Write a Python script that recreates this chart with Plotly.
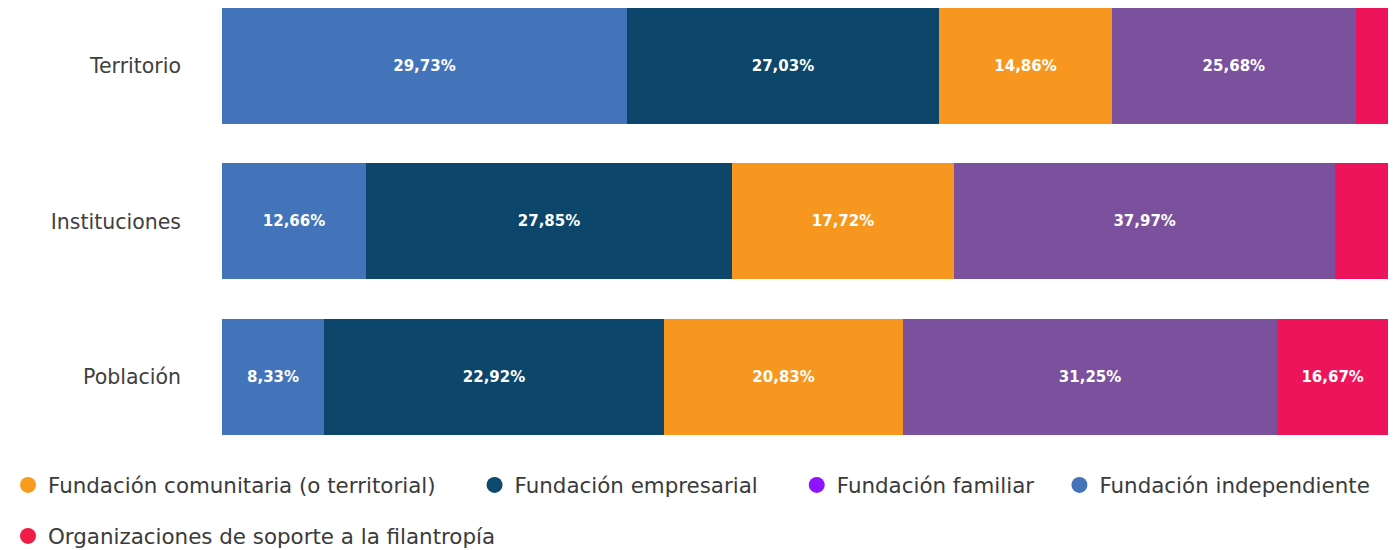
import plotly.graph_objects as go

# ---- data ----
categories = ["Territorio", "Instituciones", "Población"]
series_names = [
    "Fundación independiente",
    "Fundación empresarial",
    "Fundación comunitaria (o territorial)",
    "Fundación familiar",
    "Organizaciones de soporte a la filantropía",
]
# bar lengths (share of bar width)
len_independiente = [34.73, 12.35, 8.75]
len_empresarial = [26.76, 31.39, 29.16]
len_comunitaria = [14.84, 19.04, 20.50]
len_familiar = [20.90, 32.70, 32.08]
len_soporte = [2.77, 4.52, 9.52]
# printed labels
lab_independiente = ["29,73%", "12,66%", "8,33%"]
lab_empresarial = ["27,03%", "27,85%", "22,92%"]
lab_comunitaria = ["14,86%", "17,72%", "20,83%"]
lab_familiar = ["25,68%", "37,97%", "31,25%"]
lab_soporte = ["", "", "16,67%"]

bar_colors = ["#4374B9", "#0C466B", "#F8971F", "#7B519D", "#EE145B"]
legend_order = [2, 1, 3, 0, 4]
legend_colors = {0: "#4374B9", 1: "#0D4A6E", 2: "#F99B1F", 3: "#9013FE", 4: "#EE1C46"}
legend_pad = {2: 5, 1: 5, 3: 3, 0: 0, 4: 0}

lengths = [len_independiente, len_empresarial, len_comunitaria, len_familiar, len_soporte]
labels = [lab_independiente, lab_empresarial, lab_comunitaria, lab_familiar, lab_soporte]

FONT = "DejaVu Sans"
LEG_SIZE = 21.4
fig = go.Figure()
for i in range(5):
    fig.add_trace(go.Bar(
        y=categories, x=lengths[i], orientation="h", name=series_names[i],
        marker=dict(color=bar_colors[i], line=dict(width=0)),
        text=labels[i], textposition="inside", insidetextanchor="middle",
        textangle=0,
        textfont=dict(family=FONT, size=15, color="white", weight="bold"),
        showlegend=False, hoverinfo="skip",
    ))

for k, i in enumerate(legend_order):
    fig.add_trace(go.Scatter(
        x=[None], y=[None], mode="markers",
        name=series_names[i] + "\u00a0" * legend_pad[i],
        marker=dict(symbol="circle", size=26, color=legend_colors[i]),
        legend="legend" if k < 4 else "legend2",
    ))

fig.update_layout(
    width=1392, height=542,
    barmode="stack", bargap=0.254,
    plot_bgcolor="white", paper_bgcolor="white",
    margin=dict(l=214, r=12, t=0, b=92),
    xaxis=dict(range=[0, 100], visible=False, fixedrange=True),
    yaxis=dict(
        type="category", categoryorder="array",
        categoryarray=["Población", "Instituciones", "Territorio"],
        range=[-0.521, 2.373], showgrid=False, zeroline=False, showline=False,
        ticks="", ticklabelstandoff=40,
        tickfont=dict(family=FONT, size=20.5, color="#404040"),
    ),
    legend=dict(
        orientation="h", x=-0.1835, xanchor="left",
        y=-0.06, yanchor="middle",
        traceorder="normal",
        font=dict(family=FONT, size=LEG_SIZE, color="#3a3a3a"), itemsizing="trace",
        bgcolor="rgba(0,0,0,0)",
    ),
    legend2=dict(
        orientation="h", xref="container", x=0, xanchor="left",
        yref="container", y=0.0258, yanchor="middle",
        traceorder="normal",
        font=dict(family=FONT, size=LEG_SIZE, color="#3a3a3a"), itemsizing="trace",
        bgcolor="rgba(0,0,0,0)",
    ),
)

fig.write_html("out.html")
